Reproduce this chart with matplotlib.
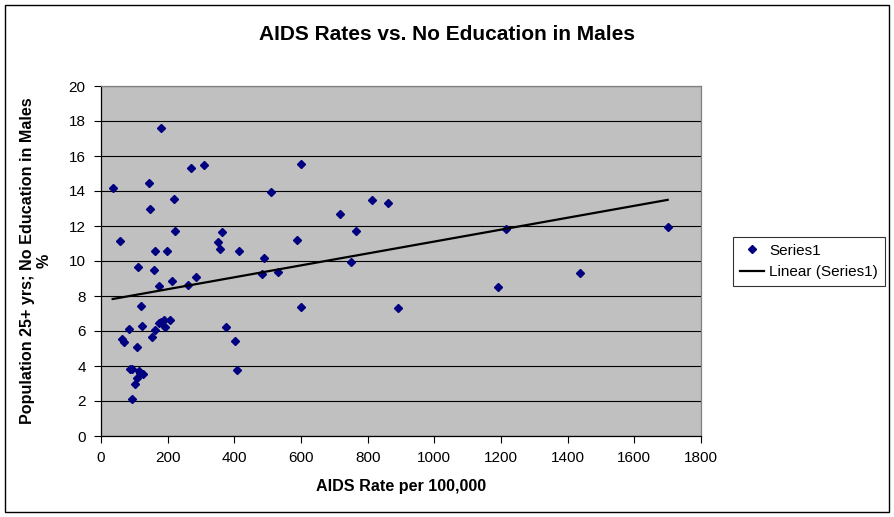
import numpy as np
import matplotlib
matplotlib.use("Agg")
import matplotlib.pyplot as plt
from matplotlib.patches import Rectangle

plt.rcParams['font.family'] = ['Liberation Sans', 'DejaVu Sans']

# AIDS rate per 100,000 (x) and % males 25+ with no education (y)
aids_rate = [35, 56, 64, 68, 83, 86, 92, 92, 101, 107, 107, 110, 113, 118, 119,
             122, 125, 143, 146, 152, 158, 161, 161, 173, 174, 180, 181, 188,
             192, 197, 206, 212, 218, 221, 260, 269, 284, 308, 350, 356, 363,
             374, 401, 407, 413, 482, 490, 509, 530, 589, 599, 601, 716, 749,
             764, 812, 860, 890, 1190, 1215, 1436, 1700]
no_edu = [14.15, 11.12, 5.56, 5.37, 6.11, 3.85, 3.85, 2.12, 2.97, 3.33, 5.09,
          9.66, 3.72, 3.60, 7.44, 6.30, 3.55, 14.44, 12.95, 5.66, 9.49, 10.55,
          6.06, 8.57, 6.46, 6.54, 17.58, 6.64, 6.23, 10.55, 6.64, 8.86, 13.52,
          11.70, 8.63, 15.30, 9.09, 15.47, 11.07, 10.67, 11.64, 6.24, 5.43,
          3.77, 10.55, 9.26, 10.15, 13.92, 9.37, 11.18, 15.52, 7.36, 12.67,
          9.92, 11.70, 13.47, 13.30, 7.30, 8.50, 11.81, 9.30, 11.93]

x = np.array(aids_rate, dtype=float)
y = np.array(no_edu)
slope, icpt = np.polyfit(x, y, 1)
xt = np.array([x.min(), x.max()])

fig = plt.figure(figsize=(8.95, 5.17), dpi=100)
ax = fig.add_axes([101 / 895, 1 - 436 / 517, 600 / 895, 350 / 517])
ax.set_facecolor('#C0C0C0')

ax.plot(x, y, linestyle='none', marker='D', ms=4.5, color='#000080',
        label='Series1', zorder=3)
ax.plot(xt, slope * xt + icpt, color='black', lw=1.6, label='Linear (Series1)',
        zorder=4)

ax.set_xlim(0, 1800)
ax.set_ylim(0, 20)
ax.set_xticks(np.arange(0, 1801, 200))
ax.set_yticks(np.arange(0, 21, 2))
ax.yaxis.grid(True, color='black', lw=0.8)
ax.set_axisbelow(True)
ax.tick_params(direction='out', length=5, width=0.8, labelsize=11, pad=6,
               color='black')
for s in ['top', 'right']:
    ax.spines[s].set_color('#808080')
for s in ['left', 'bottom']:
    ax.spines[s].set_color('black')
for s in ax.spines.values():
    s.set_linewidth(0.9)

ax.set_xlabel('AIDS Rate per 100,000', fontsize=11.6, fontweight='bold', labelpad=10)
ax.set_ylabel('Population 25+ yrs; No Education in Males\n%', fontsize=11.6,
              fontweight='bold', labelpad=12, linespacing=1.15,
              multialignment='center')
fig.text(447 / 895, 1 - 34 / 517, 'AIDS Rates vs. No Education in Males',
         ha='center', va='center', fontsize=15, fontweight='bold')

leg = ax.legend(loc='center left', bbox_to_anchor=(733 / 895, 1 - 261.5 / 517),
                bbox_transform=fig.transFigure, fontsize=11, frameon=True,
                fancybox=False, edgecolor='black', handlelength=1.6,
                handletextpad=0.3, borderpad=0.45, labelspacing=0.5,
                borderaxespad=0)
leg.get_frame().set_linewidth(0.8)

fig.patches.append(Rectangle((5 / 895, 5 / 517), 884 / 895, 507 / 517,
                             transform=fig.transFigure, fill=False,
                             edgecolor='black', lw=1))

fig.savefig('out.png', dpi=100)
